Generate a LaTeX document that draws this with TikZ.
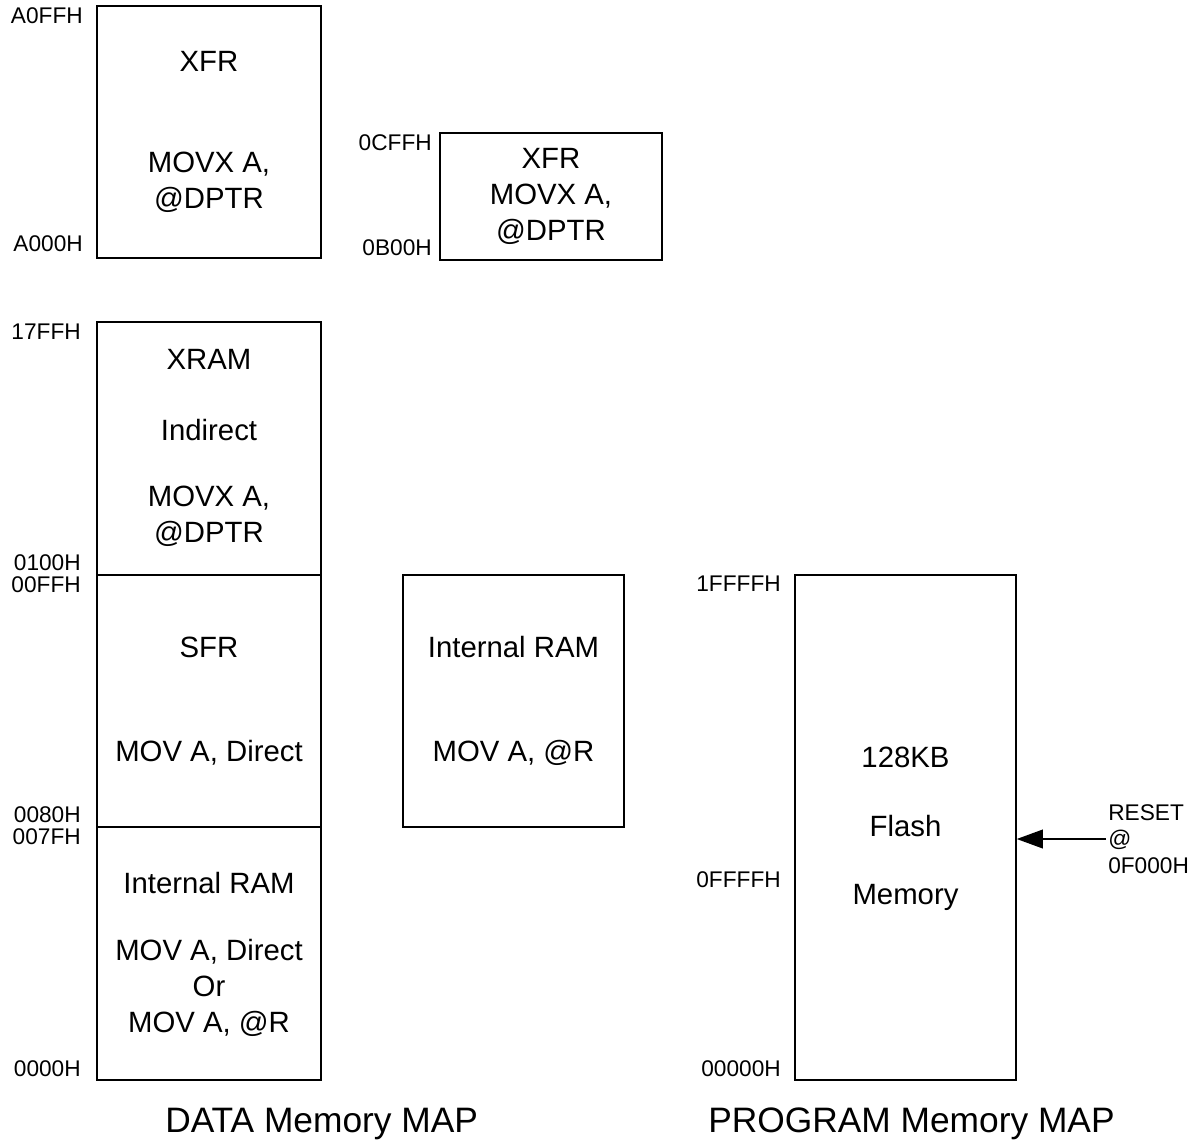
\documentclass[tikz,border=0pt]{standalone}
\usepackage{fontspec}
\setmainfont{Liberation Sans}
\usetikzlibrary{arrows.meta}

\begin{document}
\begin{tikzpicture}[x=0.75pt,y=-0.75pt,
  memblock/.style 2 args={draw, line width=1.1pt, inner sep=0pt,
    minimum width=#1*0.75pt, minimum height=#2*0.75pt},
  boxtext/.style={font=\fontsize{22}{27}\selectfont, align=center, inner sep=0pt},
  addr/.style={font=\fontsize{17}{17}\selectfont, anchor=east, inner sep=0pt},
  maptitle/.style={font=\fontsize{26.5}{30}\selectfont, anchor=base west, inner sep=0pt}]
\useasboundingbox (0,0) rectangle (1198,1139);

% data memory, XFR areas
\node [memblock={224}{252}] (xfrhi) at (209,132) {};
\node [memblock={222}{127}] (xfrlo) at (551,196.5) {};
\node [boxtext] (xfrhiname) at (209,61) {XFR};
\node [boxtext] (xfrhimov) at (209,182) {MOVX A,\\@DPTR};
\node [boxtext] (xfrlotxt) at (551,196) {XFR\\MOVX A,\\@DPTR};
\node [addr] (aA0FF) at (83,16) {A0FFH};
\node [addr] (aA000) at (83,244) {A000H};
\node [addr] (a0CFF) at (432,143) {0CFFH};
\node [addr] (a0B00) at (432,248) {0B00H};

% data memory, XRAM / SFR / internal RAM
\node [memblock={224}{253}] (xram) at (209,448.5) {};
\node [memblock={224}{252}] (sfr) at (209,701) {};
\node [memblock={224}{253}] (iram) at (209,953.5) {};
\node [memblock={221}{252}] (iramhi) at (513.5,701) {};
\node [boxtext] (xramname) at (209,359) {XRAM};
\node [boxtext] (xramind) at (209,430) {Indirect};
\node [boxtext] (xrammov) at (209,516) {MOVX A,\\@DPTR};
\node [boxtext] (sfrname) at (209,647) {SFR};
\node [boxtext] (sfrmov) at (209,753) {MOV A, Direct};
\node [boxtext] (iramname) at (209,883) {Internal RAM};
\node [boxtext] (irammov) at (209,988) {MOV A, Direct\\Or\\MOV A, @R};
\node [boxtext] (iramhiname) at (513.5,647) {Internal RAM};
\node [boxtext] (iramhimov) at (513.5,753) {MOV A, @R};
\node [addr] (a17FF) at (81,332) {17FFH};
\node [addr] (a0100) at (81,563) {0100H};
\node [addr] (a00FF) at (81,585) {00FFH};
\node [addr] (a0080) at (81,815) {0080H};
\node [addr] (a007F) at (81,837) {007FH};
\node [addr] (a0000) at (81,1069) {0000H};

% program memory
\node [memblock={221}{505}] (flash) at (905.5,827.5) {};
\node [boxtext] (flashsize) at (905.5,757) {128KB};
\node [boxtext] (flashname) at (905.5,826) {Flash};
\node [boxtext] (flashmem) at (905.5,897) {Memory};
\node [addr] (a1FFFF) at (781,584) {1FFFFH};
\node [addr] (a0FFFF) at (781,880) {0FFFFH};
\node [addr] (a00000) at (781,1069) {00000H};

% reset vector
\node [font=\fontsize{17}{20}\selectfont, align=left, anchor=west, inner sep=0pt]
  (reset) at (1108,839) {RESET\\@\\0F000H};
\coordinate (rstend) at (1106,839);
\draw [line width=1.1pt, -{Triangle[length=19.5pt,width=14pt]}] (rstend) -- (flash.east |- rstend);

% titles
\node [maptitle] (datatitle) at (165,1132) {DATA Memory MAP};
\node [maptitle] (progtitle) at (708,1132) {PROGRAM Memory MAP};
\end{tikzpicture}
\end{document}
